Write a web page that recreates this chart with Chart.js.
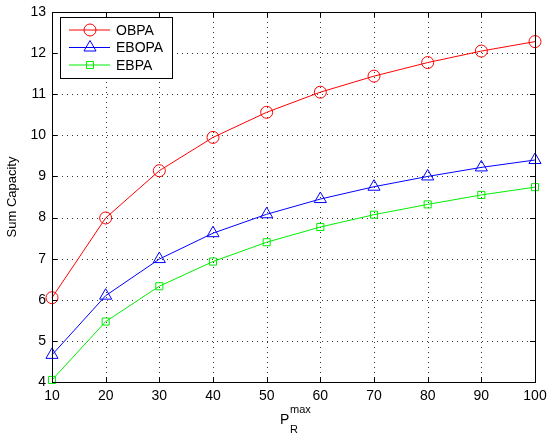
<!DOCTYPE html>
<html>
<head>
  <meta charset="UTF-8">
  <title>Sum Capacity</title>
  <script src="https://cdn.jsdelivr.net/npm/chart.js"></script>
  <style>
    html, body { margin: 0; padding: 0; background: #fff; }
    #wrap { width: 548px; height: 439px; }
  </style>
</head>
<body>
<div id="wrap"><canvas id="chart" width="548" height="439"></canvas></div>
<script>
  // 読み取った値
  const pMax = [10, 20, 30, 40, 50, 60, 70, 80, 90, 100];
  const obpa = [6.05, 7.99, 9.14, 9.95, 10.56, 11.05, 11.44, 11.77, 12.05, 12.28];
  const ebopa = [4.66, 6.10, 6.99, 7.62, 8.08, 8.45, 8.75, 9.00, 9.22, 9.40];
  const ebpa = [4.05, 5.47, 6.33, 6.93, 7.40, 7.77, 8.07, 8.32, 8.55, 8.74];
  const xTicks = [10, 20, 30, 40, 50, 60, 70, 80, 90, 100];
  const yTicks = [4, 5, 6, 7, 8, 9, 10, 11, 12, 13];

  const FONT = 'Liberation Sans, Arial, sans-serif';

  function toPoints(ys) {
    return pMax.map((x, i) => ({ x: x, y: ys[i] }));
  }

  const series = [
    { label: 'OBPA', data: obpa, color: '#ff0000', marker: 'circle', r: 6 },
    { label: 'EBOPA', data: ebopa, color: '#0000ff', marker: 'triangle', r: 7 },
    { label: 'EBPA', data: ebpa, color: '#00ee00', marker: 'rect', r: 5 }
  ];

  // 点線グリッド
  const gridPlugin = {
    id: 'dotgrid',
    beforeDatasetsDraw(chart) {
      const ctx = chart.ctx;
      const a = chart.chartArea;
      const xs = chart.scales.x, ys = chart.scales.y;
      ctx.save();
      ctx.strokeStyle = '#333';
      ctx.lineWidth = 1;
      ctx.setLineDash([1, 4]);
      ctx.beginPath();
      xTicks.forEach(v => {
        const px = Math.round(xs.getPixelForValue(v)) + 0.5;
        ctx.moveTo(px, a.top); ctx.lineTo(px, a.bottom);
      });
      yTicks.forEach(v => {
        const py = Math.round(ys.getPixelForValue(v)) + 0.5;
        ctx.moveTo(a.left, py); ctx.lineTo(a.right, py);
      });
      ctx.stroke();
      ctx.restore();
    }
  };

  // 枠・内向き目盛り・軸タイトル・凡例
  const matlabPlugin = {
    id: 'matlab',
    afterDatasetsDraw(chart) {
      const ctx = chart.ctx;
      const a = chart.chartArea;
      const xs = chart.scales.x, ys = chart.scales.y;
      ctx.save();
      ctx.strokeStyle = '#000';
      ctx.lineWidth = 1;
      ctx.beginPath();
      xTicks.forEach(v => {
        const px = Math.round(xs.getPixelForValue(v)) + 0.5;
        ctx.moveTo(px, a.bottom); ctx.lineTo(px, a.bottom - 5);
        ctx.moveTo(px, a.top); ctx.lineTo(px, a.top + 5);
      });
      yTicks.forEach(v => {
        const py = Math.round(ys.getPixelForValue(v)) + 0.5;
        ctx.moveTo(a.left, py); ctx.lineTo(a.left + 5, py);
        ctx.moveTo(a.right, py); ctx.lineTo(a.right - 5, py);
      });
      ctx.stroke();
      ctx.strokeRect(Math.round(a.left) + 0.5, Math.round(a.top) + 0.5,
        Math.round(a.right - a.left), Math.round(a.bottom - a.top));

      // 凡例
      const lx = 60, ly = 17, lw = 112, lh = 61;
      ctx.fillStyle = '#fff';
      ctx.fillRect(lx, ly, lw, lh);
      ctx.strokeRect(lx + 0.5, ly + 0.5, lw, lh);
      ctx.font = '14px ' + FONT;
      ctx.textBaseline = 'middle';
      series.forEach((s, i) => {
        const y = ly + 13 + i * 17.5;
        ctx.strokeStyle = s.color;
        ctx.beginPath();
        ctx.moveTo(lx + 9, y); ctx.lineTo(lx + 50, y);
        ctx.stroke();
        ctx.fillStyle = 'rgba(0,0,0,0)';
        Chart.helpers.drawPoint(ctx, { pointStyle: s.marker, radius: s.r, borderWidth: 1 }, lx + 30, y);
        ctx.fillStyle = '#000';
        ctx.fillText(s.label, lx + 56, y + 1);
      });

      // x軸タイトル P_R^max
      ctx.fillStyle = '#000';
      ctx.textBaseline = 'alphabetic';
      ctx.font = '14px ' + FONT;
      ctx.fillText('P', 280, 424);
      ctx.font = '11px ' + FONT;
      ctx.fillText('max', 290, 413);
      ctx.fillText('R', 290, 433);

      // y軸タイトル
      ctx.translate(16, 197);
      ctx.rotate(-Math.PI / 2);
      ctx.textAlign = 'center';
      ctx.font = '13px ' + FONT;
      ctx.fillText('Sum Capacity', 0, 0);
      ctx.restore();
    }
  };

  new Chart(document.getElementById('chart').getContext('2d'), {
    type: 'line',
    data: {
      datasets: series.map(s => ({
        label: s.label,
        data: toPoints(s.data),
        borderColor: s.color,
        borderWidth: 1,
        pointStyle: s.marker,
        pointRadius: s.r,
        pointBorderColor: s.color,
        pointBackgroundColor: 'rgba(0,0,0,0)',
        pointBorderWidth: 1,
        tension: 0,
        clip: false
      }))
    },
    options: {
      responsive: false,
      animation: false,
      layout: { padding: { top: 12, right: 13, left: 0, bottom: 0 } },
      plugins: { legend: { display: false }, tooltip: { enabled: false } },
      scales: {
        x: {
          type: 'linear', min: 10, max: 100,
          afterBuildTicks: s => { s.ticks = xTicks.map(v => ({ value: v })); },
          afterFit: s => { s.height = 57; s.paddingLeft = 0; s.paddingRight = 0; },
          grid: { display: false, drawTicks: false },
          border: { display: false },
          ticks: { color: '#000', font: { family: FONT, size: 14 }, padding: 6, maxRotation: 0 }
        },
        y: {
          type: 'linear', min: 4, max: 13,
          afterBuildTicks: s => { s.ticks = yTicks.map(v => ({ value: v })); },
          afterFit: s => { s.width = 52; s.paddingTop = 0; s.paddingBottom = 0; },
          grid: { display: false, drawTicks: false },
          border: { display: false },
          ticks: { color: '#000', font: { family: FONT, size: 14 }, padding: 6 }
        }
      }
    },
    plugins: [gridPlugin, matlabPlugin]
  });
</script>
</body>
</html>
